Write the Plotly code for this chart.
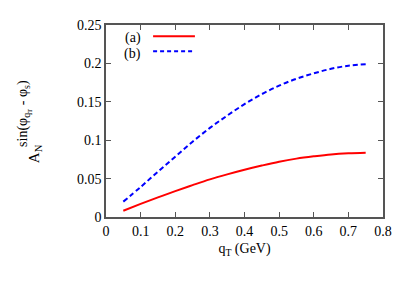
import plotly.graph_objects as go

qt = [0.05, 0.1, 0.15, 0.2, 0.25, 0.3, 0.35, 0.4, 0.45, 0.5, 0.55, 0.6, 0.65, 0.7, 0.75]
series_a = [0.0082, 0.017, 0.0255, 0.0337, 0.0415, 0.049, 0.0555, 0.0615, 0.067, 0.072, 0.076, 0.079, 0.0815, 0.083, 0.0838]
series_b = [0.020, 0.039, 0.059, 0.0785, 0.098, 0.116, 0.132, 0.147, 0.160, 0.171, 0.180, 0.187, 0.193, 0.197, 0.199]
legend_labels = ["(a)", "(b)"]

FONT = "Liberation Serif"
fig = go.Figure()
fig.add_trace(go.Scatter(x=qt, y=series_a, mode="lines", line=dict(color="#ff0000", width=2, shape="spline"), name=legend_labels[0]))
fig.add_trace(go.Scatter(x=qt, y=series_b, mode="lines", line=dict(color="#0000ff", width=2, dash="5px,3px", shape="spline"), name=legend_labels[1]))

axis_common = dict(showgrid=False, zeroline=False, showline=True, mirror="ticks", linecolor="#555555", linewidth=1.5,
                   ticks="inside", ticklen=5, tickcolor="#555555", tickwidth=1,
                   tickfont=dict(family=FONT, size=14, color="black"))
fig.update_xaxes(range=[0, 0.8], dtick=0.1, tick0=0,
                 title=dict(text="q<sub>T</sub> (GeV)", font=dict(family=FONT, size=14, color="black"), standoff=6),
                 **axis_common)
fig.update_yaxes(range=[0, 0.25], dtick=0.05, tick0=0, **axis_common)

# y-axis title built from two rotated text pieces
fig.add_annotation(x=-0.258, y=0.33, xref="paper", yref="paper", text="A<sub>N</sub>", showarrow=False,
                   xanchor="center", yanchor="middle", textangle=-90, font=dict(family=FONT, size=15, color="black"))
fig.add_annotation(x=-0.294, y=0.54, xref="paper", yref="paper",
                   text="sin(φ<sub>q<sub>T</sub></sub> - φ<sub>s</sub>)", showarrow=False,
                   xanchor="center", yanchor="middle", textangle=-90, font=dict(family=FONT, size=14, color="black"))

for i, (lab, col, dash) in enumerate(zip(legend_labels, ["#ff0000", "#0000ff"], ["solid", "4px,3px"])):
    yl = 0.942 - i * 0.079
    fig.add_annotation(x=0.134, y=yl - 0.012, xref="paper", yref="paper", text=lab, showarrow=False,
                       xanchor="right", yanchor="middle", font=dict(family=FONT, size=14, color="black"))
    fig.add_shape(type="line", xref="paper", yref="paper", x0=0.17, x1=0.321, y0=yl, y1=yl,
                  line=dict(color=col, width=2, dash=dash))

fig.update_layout(width=407, height=285, margin=dict(l=98, r=32, t=10, b=76), showlegend=False,
                  plot_bgcolor="white", paper_bgcolor="white", font=dict(family=FONT, size=14, color="black"))
fig.write_html("out.html")
